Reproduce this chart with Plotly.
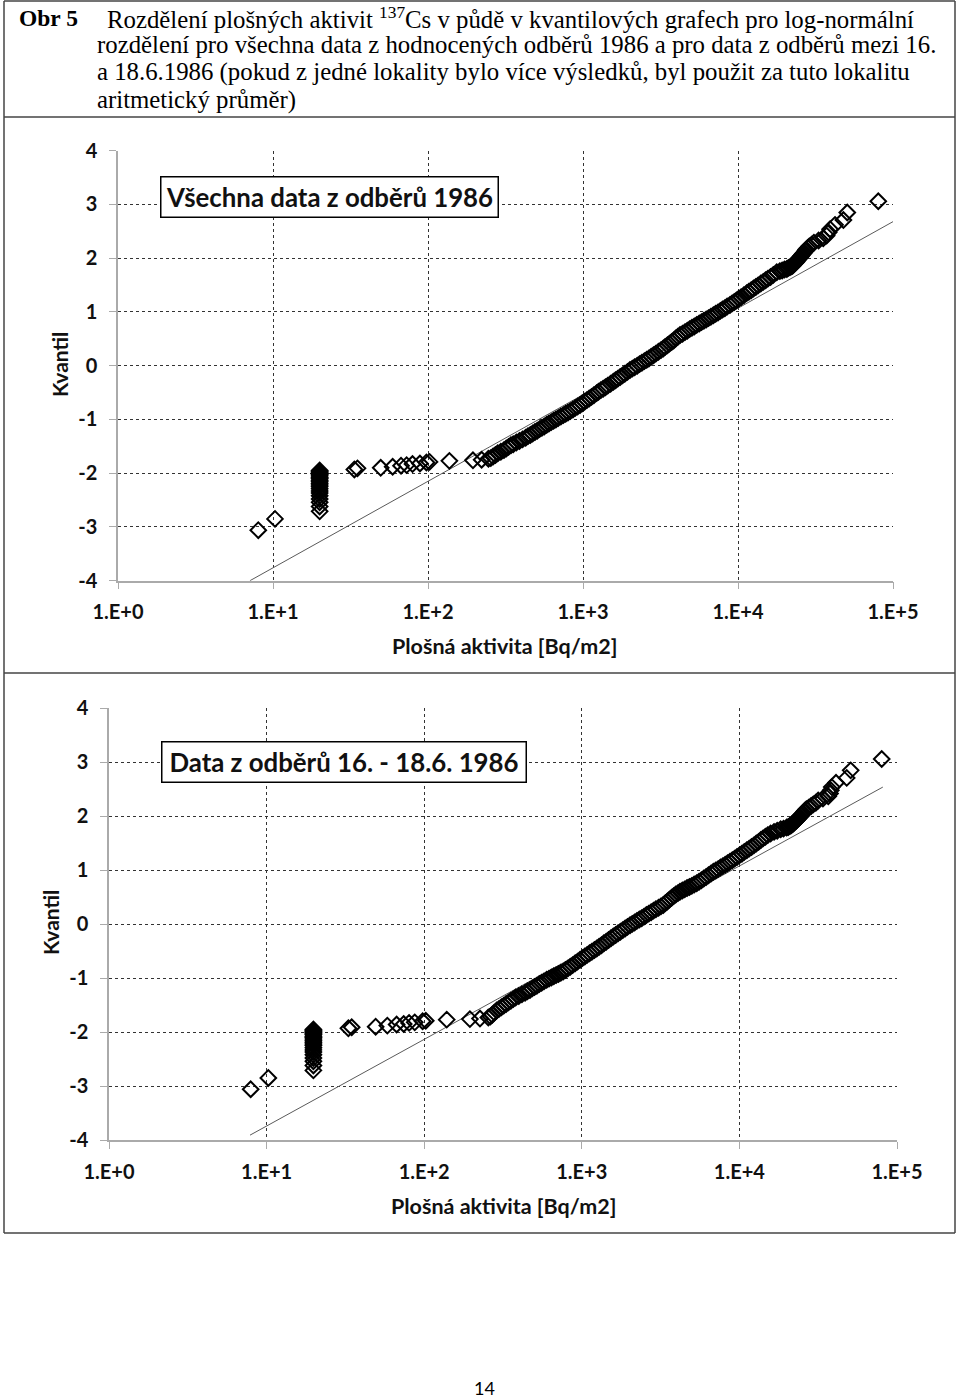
import numpy as np
import plotly.graph_objects as go

W, H = 960, 1400

# ---------------- data (log10 of activity [Bq/m2], normal quantile) ----------------
# Chart 1: all samples 1986
top_lower_tail = [
    (0.905, -3.06), (1.013, -2.85),
    (1.301, -2.71), (1.301, -2.62), (1.301, -2.54), (1.301, -2.48), (1.301, -2.42),
    (1.301, -2.37), (1.301, -2.33), (1.301, -2.29), (1.301, -2.25), (1.301, -2.22),
    (1.301, -2.19), (1.301, -2.16), (1.301, -2.13), (1.301, -2.10), (1.301, -2.08),
    (1.301, -2.05), (1.301, -2.03), (1.301, -2.01), (1.301, -1.99), (1.301, -1.97),
    (1.301, -1.95),
    (1.525, -1.93), (1.545, -1.91), (1.695, -1.90), (1.772, -1.88), (1.826, -1.86),
    (1.862, -1.85), (1.900, -1.83), (1.948, -1.82), (1.990, -1.80), (2.010, -1.79),
    (2.138, -1.77), (2.290, -1.76), (2.346, -1.75), (2.390, -1.73),
]
top_band = [
    (2.405, -1.72), (2.42, -1.69), (2.435, -1.66), (2.45, -1.63), (2.47, -1.60),
    (2.49, -1.57), (2.505, -1.54), (2.52, -1.51), (2.535, -1.48), (2.55, -1.46),
    (2.57, -1.43), (2.59, -1.40), (2.61, -1.37), (2.63, -1.34), (2.645, -1.31),
    (2.66, -1.29), (2.675, -1.26), (2.69, -1.235), (2.705, -1.21), (2.72, -1.18),
    (2.735, -1.155), (2.75, -1.13), (2.766, -1.10), (2.78, -1.075), (2.795, -1.05),
    (2.81, -1.025), (2.825, -1.00), (2.84, -0.975), (2.857, -0.945), (2.873, -0.92),
    (2.888, -0.895), (2.903, -0.87), (2.918, -0.845), (2.935, -0.815), (2.95, -0.785),
    (2.965, -0.76), (2.981, -0.73), (2.995, -0.70), (3.01, -0.67), (3.025, -0.64),
    (3.04, -0.61), (3.055, -0.58), (3.07, -0.55), (3.088, -0.51), (3.10, -0.485),
    (3.115, -0.455), (3.13, -0.43), (3.145, -0.40), (3.16, -0.37), (3.178, -0.335),
    (3.196, -0.30), (3.21, -0.27), (3.225, -0.24), (3.24, -0.21), (3.255, -0.18),
    (3.27, -0.15), (3.287, -0.115), (3.303, -0.08), (3.318, -0.055), (3.333, -0.03),
    (3.35, 0.0), (3.365, 0.03), (3.38, 0.055), (3.396, 0.085), (3.411, 0.11),
    (3.425, 0.135), (3.44, 0.165), (3.455, 0.195), (3.47, 0.225), (3.487, 0.26),
    (3.503, 0.29), (3.518, 0.32), (3.53, 0.35), (3.545, 0.38), (3.558, 0.41),
    (3.572, 0.44), (3.585, 0.47), (3.598, 0.505), (3.612, 0.54), (3.626, 0.57),
    (3.642, 0.595), (3.658, 0.625), (3.673, 0.65), (3.688, 0.68), (3.703, 0.705),
    (3.718, 0.73), (3.734, 0.76), (3.75, 0.785), (3.765, 0.81), (3.78, 0.835),
    (3.795, 0.86), (3.81, 0.885), (3.825, 0.91), (3.841, 0.94), (3.856, 0.965),
    (3.871, 0.99), (3.886, 1.02), (3.90, 1.045), (3.915, 1.07), (3.93, 1.10),
    (3.948, 1.13), (3.962, 1.16), (3.976, 1.185), (3.99, 1.215), (4.005, 1.245),
    (4.02, 1.275), (4.038, 1.31), (4.056, 1.35), (4.07, 1.375), (4.085, 1.405),
    (4.10, 1.435), (4.115, 1.465), (4.13, 1.495), (4.147, 1.53), (4.163, 1.56),
    (4.178, 1.59), (4.193, 1.62), (4.21, 1.65), (4.228, 1.69), (4.25, 1.74),
]
top_upper_tail = [
    (4.27, 1.76), (4.285, 1.77), (4.30, 1.79), (4.315, 1.80), (4.325, 1.82),
    (4.335, 1.83), (4.345, 1.85), (4.352, 1.86), (4.358, 1.88), (4.363, 1.90),
    (4.368, 1.91), (4.375, 1.93), (4.38, 1.95), (4.386, 1.97), (4.392, 1.99),
    (4.398, 2.01), (4.405, 2.03), (4.41, 2.05), (4.418, 2.08), (4.425, 2.10),
    (4.433, 2.13), (4.44, 2.16), (4.45, 2.19), (4.46, 2.22), (4.475, 2.25),
    (4.49, 2.29), (4.52, 2.33), (4.55, 2.37), (4.572, 2.42), (4.585, 2.48),
    (4.594, 2.54), (4.626, 2.62), (4.68, 2.71), (4.705, 2.85), (4.905, 3.06),
]
top_fit_activity = [7.1, 100000]
top_fit_quantile = [-4.0, 2.68]

# Chart 2: samples 16. - 18.6. 1986
bottom_lower_tail = [
    (0.899, -3.06), (1.011, -2.85),
    (1.297, -2.71), (1.297, -2.62), (1.297, -2.54), (1.297, -2.48), (1.297, -2.42),
    (1.297, -2.37), (1.297, -2.33), (1.297, -2.29), (1.297, -2.25), (1.297, -2.22),
    (1.297, -2.19), (1.297, -2.16), (1.297, -2.13), (1.297, -2.10), (1.297, -2.08),
    (1.297, -2.05), (1.297, -2.03), (1.297, -2.01), (1.297, -1.99), (1.297, -1.97),
    (1.297, -1.95),
    (1.519, -1.93), (1.540, -1.91), (1.692, -1.90), (1.766, -1.88), (1.825, -1.86),
    (1.870, -1.85), (1.904, -1.83), (1.940, -1.82), (1.990, -1.80), (2.010, -1.79),
    (2.143, -1.77), (2.290, -1.76), (2.354, -1.75), (2.407, -1.73),
]
bottom_band = [
    (2.42, -1.71), (2.432, -1.68), (2.445, -1.64), (2.46, -1.60), (2.475, -1.57),
    (2.49, -1.54), (2.505, -1.51), (2.52, -1.48), (2.535, -1.45), (2.55, -1.42),
    (2.565, -1.39), (2.58, -1.36), (2.60, -1.33), (2.62, -1.30), (2.64, -1.27),
    (2.655, -1.245), (2.671, -1.22), (2.686, -1.19), (2.70, -1.165), (2.715, -1.14),
    (2.73, -1.11), (2.745, -1.085), (2.76, -1.06), (2.777, -1.03), (2.792, -1.01),
    (2.807, -0.99), (2.822, -0.965), (2.837, -0.945), (2.852, -0.925), (2.867, -0.90),
    (2.882, -0.88), (2.897, -0.85), (2.912, -0.82), (2.927, -0.79), (2.942, -0.76),
    (2.958, -0.725), (2.973, -0.695), (2.989, -0.66), (3.004, -0.63), (3.019, -0.60),
    (3.034, -0.57), (3.049, -0.54), (3.064, -0.51), (3.08, -0.48), (3.095, -0.45),
    (3.11, -0.42), (3.125, -0.39), (3.14, -0.355), (3.155, -0.325), (3.17, -0.295),
    (3.185, -0.26), (3.20, -0.23), (3.215, -0.20), (3.23, -0.17), (3.245, -0.14),
    (3.26, -0.11), (3.275, -0.08), (3.29, -0.05), (3.306, -0.02), (3.32, 0.005),
    (3.335, 0.03), (3.35, 0.06), (3.365, 0.085), (3.38, 0.11), (3.395, 0.14),
    (3.41, 0.17), (3.425, 0.195), (3.44, 0.22), (3.455, 0.25), (3.47, 0.275),
    (3.487, 0.305), (3.502, 0.33), (3.517, 0.355), (3.53, 0.39), (3.543, 0.42),
    (3.556, 0.455), (3.57, 0.49), (3.583, 0.52), (3.596, 0.55), (3.61, 0.575),
    (3.623, 0.60), (3.638, 0.625), (3.653, 0.645), (3.668, 0.67), (3.683, 0.69),
    (3.698, 0.71), (3.713, 0.735), (3.729, 0.757), (3.744, 0.785), (3.759, 0.815),
    (3.774, 0.845), (3.789, 0.875), (3.804, 0.905), (3.82, 0.94), (3.835, 0.97),
    (3.85, 0.995), (3.865, 1.02), (3.88, 1.05), (3.895, 1.075), (3.91, 1.10),
    (3.925, 1.13), (3.94, 1.157), (3.955, 1.185), (3.97, 1.215), (3.985, 1.245),
    (4.0, 1.275), (4.016, 1.305), (4.031, 1.34), (4.047, 1.37), (4.062, 1.40),
    (4.077, 1.43), (4.092, 1.46), (4.107, 1.495), (4.122, 1.525), (4.136, 1.56),
    (4.15, 1.59), (4.165, 1.62), (4.18, 1.65), (4.198, 1.68), (4.22, 1.71),
    (4.24, 1.73),
]
bottom_upper_tail = [
    (4.262, 1.76), (4.28, 1.77), (4.30, 1.79), (4.31, 1.80), (4.32, 1.82),
    (4.328, 1.83), (4.335, 1.85), (4.34, 1.86), (4.346, 1.88), (4.352, 1.90),
    (4.358, 1.91), (4.364, 1.93), (4.37, 1.95), (4.376, 1.97), (4.383, 1.99),
    (4.39, 2.01), (4.397, 2.03), (4.403, 2.05), (4.41, 2.08), (4.416, 2.10),
    (4.425, 2.13), (4.44, 2.16), (4.455, 2.19), (4.469, 2.22), (4.485, 2.25),
    (4.50, 2.29), (4.53, 2.33), (4.564, 2.37), (4.575, 2.42), (4.58, 2.48),
    (4.586, 2.54), (4.613, 2.62), (4.681, 2.71), (4.706, 2.85), (4.903, 3.06),
]
bottom_fit_activity = [7.85, 81300]
bottom_fit_quantile = [-3.91, 2.54]

x_tick_values = [1, 10, 100, 1000, 10000, 100000]
x_tick_labels = ["1.E+0", "1.E+1", "1.E+2", "1.E+3", "1.E+4", "1.E+5"]
y_tick_values = [-4, -3, -2, -1, 0, 1, 2, 3, 4]
y_tick_labels = ["-4", "-3", "-2", "-1", "0", "1", "2", "3", "4"]

title_top = "Všechna data z odběrů 1986"
title_bottom = "Data z odběrů 16. - 18.6. 1986"
x_title = "Plošná aktivita [Bq/m2]"
y_title = "Kvantil"
header_lines = [
    "Rozdělení plošných aktivit <sup>137</sup>Cs v půdě v kvantilových grafech pro log-normální",
    "rozdělení pro všechna data z hodnocených odběrů 1986 a pro data z odběrů mezi 16.",
    "a 18.6.1986 (pokud z jedné lokality bylo více výsledků, byl použit za tuto lokalitu",
    "aritmetický průměr)",
]


# ---------------- helpers ----------------
def pxx(x):
    return x / W


def pxy(y):
    return 1 - y / H


def unzip(*segments):
    pts = [p for seg in segments for p in seg]
    xs = [10 ** p[0] for p in pts]
    ys = [p[1] for p in pts]
    return xs, ys


top_x, top_y = unzip(top_lower_tail, top_band, top_upper_tail)
bot_x, bot_y = unzip(bottom_lower_tail, bottom_band, bottom_upper_tail)

fig = go.Figure()

marker = dict(symbol="diamond-open", size=12, color="black", line=dict(width=2, color="black"))
line_style = dict(color="#5a5a5a", width=1)

fig.add_trace(go.Scatter(x=top_fit_activity, y=top_fit_quantile, mode="lines",
                         line=line_style, xaxis="x", yaxis="y", hoverinfo="skip"))
fig.add_trace(go.Scatter(x=top_x, y=top_y, mode="markers", marker=marker,
                         xaxis="x", yaxis="y"))
fig.add_trace(go.Scatter(x=bottom_fit_activity, y=bottom_fit_quantile, mode="lines",
                         line=line_style, xaxis="x2", yaxis="y2", hoverinfo="skip"))
fig.add_trace(go.Scatter(x=bot_x, y=bot_y, mode="markers", marker=marker,
                         xaxis="x2", yaxis="y2"))

tick_font = dict(family="Lato", size=20, color="#111111", weight="bold")
common_x = dict(type="log", range=[0, 5], tickvals=x_tick_values, ticktext=x_tick_labels,
                showgrid=True, gridcolor="#333333", griddash="dot", gridwidth=1,
                showline=True, linecolor="#aaaaaa", linewidth=1.5,
                ticks="outside", ticklen=7, tickcolor="#aaaaaa", tickwidth=1,
                tickfont=tick_font, ticklabelstandoff=6, zeroline=False, fixedrange=True,
                automargin=False)
common_y = dict(range=[-4, 4], tickvals=y_tick_values, ticktext=y_tick_labels,
                showgrid=True, gridcolor="#333333", griddash="dot", gridwidth=1,
                showline=True, linecolor="#aaaaaa", linewidth=1.5,
                ticks="outside", ticklen=7, tickcolor="#aaaaaa", tickwidth=1,
                tickfont=tick_font, ticklabelstandoff=8, zeroline=False, fixedrange=True,
                automargin=False)

fig.update_layout(
    width=W, height=H, margin=dict(l=0, r=0, t=0, b=0, pad=0, autoexpand=False),
    paper_bgcolor="white", plot_bgcolor="white", showlegend=False,
    xaxis=dict(common_x, domain=[pxx(118), pxx(893)], anchor="y"),
    yaxis=dict(common_y, domain=[pxy(580.7), pxy(150.7)], anchor="x"),
    xaxis2=dict(common_x, domain=[pxx(109), pxx(897)], anchor="y2"),
    yaxis2=dict(common_y, domain=[pxy(1140), pxy(708.3)], anchor="x2"),
)

# ---------------- page frame ----------------
frame = dict(color="#444444", width=1.5)
for y in [1, 117, 673, 1233]:
    fig.add_shape(type="line", xref="paper", yref="paper",
                  x0=pxx(4), x1=pxx(955), y0=pxy(y), y1=pxy(y), line=frame)
for x in [4, 955]:
    fig.add_shape(type="line", xref="paper", yref="paper",
                  x0=pxx(x), x1=pxx(x), y0=pxy(1), y1=pxy(1233), line=frame)

ann = []
serif = dict(family="Liberation Serif", size=24.8, color="black")
ann.append(dict(text="<b>Obr 5</b>", x=pxx(17), y=pxy(18), xanchor="left", yanchor="middle",
                font=dict(serif, size=23.5)))
starts = [105, 95, 95, 95]
ys = [18, 45, 72, 100]
for t, sx, yy in zip(header_lines, starts, ys):
    ann.append(dict(text=t, x=pxx(sx), y=pxy(yy), xanchor="left", yanchor="middle", font=serif))

box_font = dict(family="Lato", size=25.8, color="#111111", weight="bold")
ann.append(dict(text=title_top, x=pxx(329), y=pxy(197), xanchor="center", yanchor="middle",
                font=box_font, bordercolor="black", borderwidth=1.5, bgcolor="white",
                width=334, height=37))
ann.append(dict(text=title_bottom, x=pxx(343.5), y=pxy(762), xanchor="center", yanchor="middle",
                font=box_font, bordercolor="black", borderwidth=1.5, bgcolor="white",
                width=361, height=37))

lab_font = dict(family="Lato", size=21.5, color="#111111", weight="bold")
ann.append(dict(text=x_title, x=pxx(505), y=pxy(646), xanchor="center", yanchor="middle", font=lab_font))
ann.append(dict(text=x_title, x=pxx(503), y=pxy(1206), xanchor="center", yanchor="middle", font=lab_font))
ann.append(dict(text=y_title, x=pxx(60), y=pxy(365), xanchor="center", yanchor="middle",
                textangle=-90, font=dict(lab_font, size=21)))
ann.append(dict(text=y_title, x=pxx(50), y=pxy(923), xanchor="center", yanchor="middle",
                textangle=-90, font=dict(lab_font, size=21)))
ann.append(dict(text="14", x=pxx(484), y=pxy(1388), xanchor="center", yanchor="middle",
                font=dict(family="Lato", size=18, color="black")))

for a in ann:
    a.setdefault("xref", "paper")
    a.setdefault("yref", "paper")
    a.setdefault("showarrow", False)
fig.update_layout(annotations=ann)

fig.write_html("out.html", config={"displayModeBar": False},
               post_script="document.body.style.margin='0';")
